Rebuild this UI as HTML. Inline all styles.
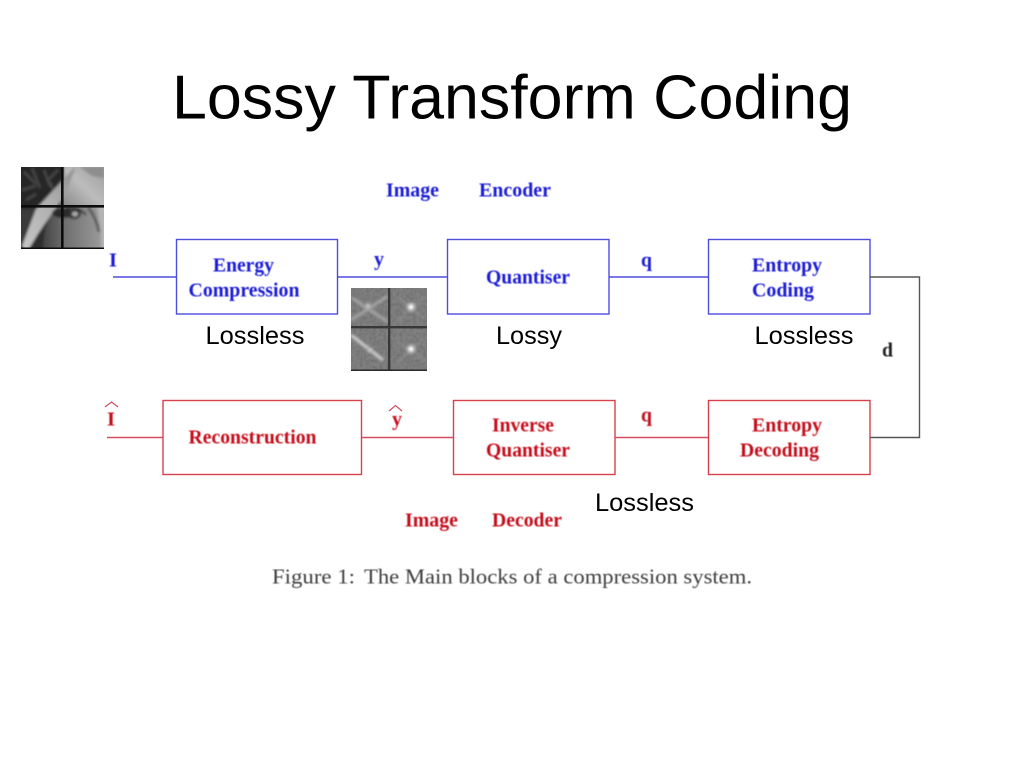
<!DOCTYPE html>
<html lang="en">
<head>
<meta charset="utf-8">
<title>Lossy Transform Coding</title>
<style>
html,body{margin:0;padding:0;background:#fff;width:1024px;height:768px;overflow:hidden}
svg{display:block}
.s{font-family:"Liberation Sans",Arial,sans-serif}
.b{font-family:"Liberation Serif","Times New Roman",serif;font-weight:bold;font-size:19.5px}
.blue{fill:#1c1cd6}
.red{fill:#c4101c}
.bx{fill:none;stroke:#4d4de0;stroke-width:1.4}
.rx{fill:none;stroke:#d8404c;stroke-width:1.4}
.l{font-family:"Liberation Sans",Arial,sans-serif;font-size:25.4px;fill:#000}
.cap{font-family:"Liberation Serif","DejaVu Serif",serif;font-size:21px;fill:#3c3c3c}
</style>
</head>
<body>
<svg width="1024" height="768" viewBox="0 0 1024 768" xmlns="http://www.w3.org/2000/svg">
<defs>
<filter id="soft" x="-5%" y="-20%" width="110%" height="140%"><feGaussianBlur stdDeviation="0.45"/></filter>
<filter id="bl1" x="-10%" y="-10%" width="120%" height="120%"><feGaussianBlur stdDeviation="1.2"/></filter>
<filter id="noise" x="0" y="0" width="100%" height="100%">
<feTurbulence type="fractalNoise" baseFrequency="0.3" numOctaves="2" seed="4"/>
<feColorMatrix type="matrix" values="0 0 0 0 0  0 0 0 0 0  0 0 0 0 0  1.6 0 0 0 -0.55"/>
</filter>
<linearGradient id="hat" x1="0" y1="1" x2="1" y2="0"><stop offset="0" stop-color="#858585"/><stop offset=".45" stop-color="#bcbcbc"/><stop offset="1" stop-color="#959595"/></linearGradient>
<linearGradient id="face" x1="0" y1="0" x2="1" y2="0"><stop offset="0" stop-color="#363636"/><stop offset=".4" stop-color="#707070"/><stop offset="1" stop-color="#a4a4a4"/></linearGradient>
<linearGradient id="band" x1="0" y1="1" x2="1" y2="0"><stop offset="0" stop-color="#c8c8c8"/><stop offset=".6" stop-color="#acacac"/><stop offset="1" stop-color="#8c8c8c"/></linearGradient>
<radialGradient id="glow"><stop offset="0" stop-color="#fff"/><stop offset=".3" stop-color="#d4d4d4"/><stop offset="1" stop-color="#909090" stop-opacity="0"/></radialGradient>
<radialGradient id="glow2"><stop offset="0" stop-color="#c8c8c8"/><stop offset="1" stop-color="#909090" stop-opacity="0"/></radialGradient>
<clipPath id="c1"><rect x="21" y="167" width="83" height="82"/></clipPath>
<clipPath id="c2"><rect x="351" y="288" width="76" height="83"/></clipPath>
</defs>

<text class="s" x="172" y="118.500" font-size="62.4" textLength="680" lengthAdjust="spacingAndGlyphs">Lossy Transform Coding</text>

<!-- Lena crop -->
<g clip-path="url(#c1)">
<g filter="url(#bl1)">
<rect x="15" y="160" width="95" height="95" fill="#333"/>
<polygon points="15,160 78,160 36,209 15,225" fill="#272727"/>
<path d="M24,172l12,12M32,168l8,20M44,170l6,16M22,190l14,-4M50,182l4,10M26,200l10,-6M58,170l-10,10" stroke="#4c4c4c" stroke-width="2" fill="none"/>
<polygon points="64,160 110,160 110,207 60,207 63,195" fill="url(#hat)"/>
<polygon points="80,167 104,167 104,178 92,176" fill="#8e8e8e"/>
<polygon points="36,255 53,207 110,207 110,255" fill="url(#face)"/>
<polygon points="22,246 36,209 61,182 76,166 65,195 55,209 38,234 27,252" fill="url(#band)"/>
<polygon points="15,209 36,209 22,240 15,245" fill="#3a3a3a"/>
<polygon points="27,252 38,234 46,222 42,255" fill="#2e2e2e"/>
<ellipse cx="63" cy="213" rx="11" ry="5" fill="#292929"/>
<ellipse cx="74" cy="214" rx="7" ry="5" fill="#2e2e2e"/>
<ellipse cx="75" cy="214" rx="3" ry="2.400" fill="#b0b0b0"/>
<path d="M66,208q12,-2 20,7" stroke="#2a2a2a" stroke-width="2" fill="none"/>
<path d="M88,207q8,10 11,25" stroke="#4a4a4a" stroke-width="2.400" fill="none"/>
<polygon points="97,207 110,207 110,255 101,255 101,232" fill="#b4b4b4"/>
</g>
<rect x="61" y="167" width="2.600" height="82" fill="#0c0c0c"/>
<rect x="21" y="205" width="83" height="2.600" fill="#0c0c0c"/>
<rect x="21" y="247.500" width="83" height="2" fill="#0c0c0c"/>
</g>

<!-- Spectrum -->
<g clip-path="url(#c2)">
<rect x="351" y="288" width="76" height="83" fill="#808080"/>
<rect x="351" y="288" width="76" height="83" filter="url(#noise)" opacity=".16"/>
<g filter="url(#bl1)" fill="none" stroke="#a4a4a4">
<path d="M351,320L388,296M352,298L388,322" stroke-width="3"/>
<path d="M398,297L424,318M396,322L425,296" stroke-width="1.500" stroke="#8e8e8e"/>
<path d="M396,340L425,360M398,362L424,338" stroke-width="1.500" stroke="#8e8e8e"/>
<path d="M351,335L383,360" stroke="#c8c8c8" stroke-width="3.400"/>
</g>
<circle cx="368" cy="306" r="6" fill="url(#glow2)"/>
<circle cx="411" cy="307" r="7" fill="url(#glow)"/>
<circle cx="411" cy="349" r="7" fill="url(#glow)"/>
<circle cx="370" cy="350" r="5" fill="url(#glow2)"/>
<rect x="388" y="288" width="2.400" height="82" fill="#383838"/>
<rect x="351" y="326" width="76" height="2.400" fill="#383838"/>
<rect x="351" y="369.500" width="76" height="1.600" fill="#2a2a2a"/>
</g>

<!-- Encoder boxes -->
<rect class="bx" x="176.500" y="239.500" width="161" height="74.500"/>
<rect class="bx" x="447.500" y="239.500" width="161.500" height="74.500"/>
<rect class="bx" x="708.500" y="239.500" width="161.500" height="74.500"/>
<path d="M113,277H176M338,277H447M609,277H708" stroke="#4d4de0" stroke-width="1.4" fill="none"/>

<!-- Decoder boxes -->
<rect class="rx" x="163" y="400.500" width="198.500" height="74"/>
<rect class="rx" x="453.500" y="400.500" width="161.500" height="74"/>
<rect class="rx" x="708.500" y="400.500" width="161.500" height="74"/>
<path d="M107,437.500H163M362,437.500H453M615,437.500H708" stroke="#d05060" stroke-width="1.4" fill="none"/>

<!-- Link -->
<path d="M870,277H919.500V437.500H870" stroke="#555" stroke-width="1.4" fill="none"/>

<!-- Blue labels -->
<g class="blue" filter="url(#soft)">
<text class="b" x="386" y="196.700" textLength="53" lengthAdjust="spacingAndGlyphs">Image</text>
<text class="b" x="479" y="196.700" textLength="72" lengthAdjust="spacingAndGlyphs">Encoder</text>
<text class="b" x="109" y="266.700" textLength="8" lengthAdjust="spacingAndGlyphs">I</text>
<text class="b" x="213" y="271.700" textLength="61" lengthAdjust="spacingAndGlyphs">Energy</text>
<text class="b" x="188.500" y="296.700" textLength="111" lengthAdjust="spacingAndGlyphs">Compression</text>
<text class="b" x="374" y="265.700" textLength="10" lengthAdjust="spacingAndGlyphs">y</text>
<text class="b" x="486" y="283.700" textLength="84" lengthAdjust="spacingAndGlyphs">Quantiser</text>
<text class="b" x="641" y="266.700" textLength="11" lengthAdjust="spacingAndGlyphs">q</text>
<text class="b" x="752" y="271.700" textLength="70" lengthAdjust="spacingAndGlyphs">Entropy</text>
<text class="b" x="752" y="296.700" textLength="62" lengthAdjust="spacingAndGlyphs">Coding</text>
</g>

<!-- Red labels -->
<g class="red" filter="url(#soft)">
<text class="b" x="107" y="425.700" textLength="8" lengthAdjust="spacingAndGlyphs">I</text>
<text class="b" x="188.500" y="443.700" textLength="128" lengthAdjust="spacingAndGlyphs">Reconstruction</text>
<text class="b" x="392" y="425.700" textLength="10" lengthAdjust="spacingAndGlyphs">y</text>
<text class="b" x="492" y="431.700" textLength="62" lengthAdjust="spacingAndGlyphs">Inverse</text>
<text class="b" x="486" y="456.700" textLength="84" lengthAdjust="spacingAndGlyphs">Quantiser</text>
<text class="b" x="641" y="421.700" textLength="11" lengthAdjust="spacingAndGlyphs">q</text>
<text class="b" x="752" y="431.700" textLength="70" lengthAdjust="spacingAndGlyphs">Entropy</text>
<text class="b" x="740" y="456.700" textLength="79" lengthAdjust="spacingAndGlyphs">Decoding</text>
<text class="b" x="405" y="526.700" textLength="53" lengthAdjust="spacingAndGlyphs">Image</text>
<text class="b" x="492" y="526.700" textLength="70" lengthAdjust="spacingAndGlyphs">Decoder</text>
</g>
<path d="M105,407l6.500,-5l6.500,5M389,411l6.500,-5.500l6.500,5.500" stroke="#d05060" stroke-width="1.2" fill="none"/>

<text class="b" x="882" y="356.700" textLength="11" lengthAdjust="spacingAndGlyphs" fill="#222" filter="url(#soft)">d</text>

<!-- Black labels -->
<text class="l" x="205.500" y="344" textLength="99" lengthAdjust="spacingAndGlyphs">Lossless</text>
<text class="l" x="496" y="344" textLength="66" lengthAdjust="spacingAndGlyphs">Lossy</text>
<text class="l" x="754.500" y="344" textLength="99" lengthAdjust="spacingAndGlyphs">Lossless</text>
<text class="l" x="595" y="511" textLength="99" lengthAdjust="spacingAndGlyphs">Lossless</text>

<!-- Caption -->
<g filter="url(#soft)">
<text class="cap" x="272" y="583.500" textLength="83" lengthAdjust="spacingAndGlyphs">Figure 1:</text>
<text class="cap" x="364" y="583.500" textLength="388" lengthAdjust="spacingAndGlyphs">The Main blocks of a compression system.</text>
</g>
</svg>
</body>
</html>
